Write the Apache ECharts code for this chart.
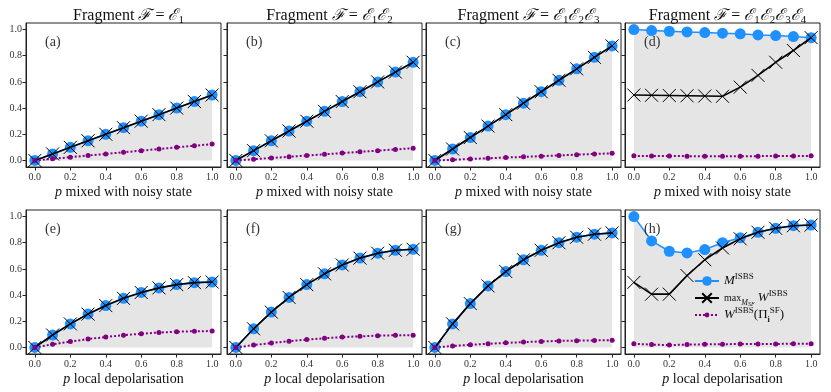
<!DOCTYPE html>
<html lang="en">
<head>
  <meta charset="UTF-8">
  <script src="https://cdn.jsdelivr.net/npm/echarts@6.0.0/dist/echarts.min.js"></script>
  <title>ISBS fragments</title>
  <style>
    html, body { margin: 0; padding: 0; background: #fff; }
    .container { width: 831px; height: 392px; }
  </style>
</head>
<body>
  <div class="container"></div>
  <script>
    // noise parameter p
    const pValues = [0, 0.1, 0.2, 0.3, 0.4, 0.5, 0.6, 0.7, 0.8, 0.9, 1.0];
    const tickValues = [0, 0.2, 0.4, 0.6, 0.8, 1.0];

    // top row: p mixed with noisy state
    const mPanelA = [0, 0.05, 0.1, 0.15, 0.2, 0.25, 0.3, 0.35, 0.4, 0.45, 0.5];
    const wPanelA = [0, 0.05, 0.1, 0.15, 0.2, 0.25, 0.3, 0.35, 0.4, 0.45, 0.5];
    const iiPanelA = [0, 0.0125, 0.025, 0.0375, 0.05, 0.0625, 0.075, 0.0875, 0.1, 0.1125, 0.125];

    const mPanelB = [0, 0.075, 0.15, 0.225, 0.3, 0.375, 0.45, 0.525, 0.6, 0.675, 0.75];
    const wPanelB = [0, 0.075, 0.15, 0.225, 0.3, 0.375, 0.45, 0.525, 0.6, 0.675, 0.75];
    const iiPanelB = [0, 0.009, 0.019, 0.028, 0.038, 0.047, 0.056, 0.066, 0.075, 0.084, 0.094];

    const mPanelC = [0, 0.0875, 0.175, 0.2625, 0.35, 0.4375, 0.525, 0.6125, 0.7, 0.7875, 0.875];
    const wPanelC = [0, 0.0875, 0.175, 0.2625, 0.35, 0.4375, 0.525, 0.6125, 0.7, 0.7875, 0.875];
    const iiPanelC = [0, 0.0055, 0.011, 0.0165, 0.022, 0.0275, 0.033, 0.0385, 0.044, 0.0495, 0.055];

    const mPanelD = [1.0, 0.992, 0.987, 0.982, 0.977, 0.972, 0.967, 0.959, 0.954, 0.946, 0.938];
    const wPanelD = [0.5, 0.498, 0.496, 0.494, 0.492, 0.49, 0.56, 0.65, 0.75, 0.84, 0.938];
    const iiPanelD = [0.035, 0.034, 0.034, 0.033, 0.033, 0.032, 0.033, 0.033, 0.034, 0.034, 0.035];

    // bottom row: p local depolarisation
    const mPanelE = [0, 0.095, 0.18, 0.255, 0.32, 0.375, 0.42, 0.455, 0.48, 0.495, 0.5];
    const wPanelE = [0, 0.095, 0.18, 0.255, 0.32, 0.375, 0.42, 0.455, 0.48, 0.495, 0.5];
    const iiPanelE = [0, 0.024, 0.045, 0.064, 0.08, 0.094, 0.105, 0.114, 0.12, 0.124, 0.125];

    const mPanelF = [0, 0.1425, 0.27, 0.3825, 0.48, 0.5625, 0.63, 0.6825, 0.72, 0.7425, 0.75];
    const wPanelF = [0, 0.1425, 0.27, 0.3825, 0.48, 0.5625, 0.63, 0.6825, 0.72, 0.7425, 0.75];
    const iiPanelF = [0, 0.018, 0.034, 0.048, 0.06, 0.07, 0.079, 0.085, 0.09, 0.093, 0.094];

    const mPanelG = [0, 0.18, 0.335, 0.47, 0.58, 0.67, 0.742, 0.8, 0.842, 0.865, 0.875];
    const wPanelG = [0, 0.18, 0.335, 0.47, 0.58, 0.67, 0.742, 0.8, 0.842, 0.865, 0.875];
    const iiPanelG = [0, 0.011, 0.02, 0.028, 0.035, 0.041, 0.046, 0.05, 0.052, 0.054, 0.055];

    const mPanelH = [1.0, 0.814, 0.735, 0.722, 0.748, 0.8, 0.838, 0.88, 0.91, 0.93, 0.935];
    const wPanelH = [0.497, 0.407, 0.407, 0.549, 0.67, 0.76, 0.83, 0.88, 0.91, 0.93, 0.935];
    const iiPanelH = [0.028, 0.022, 0.018, 0.022, 0.024, 0.025, 0.026, 0.027, 0.027, 0.028, 0.028];

    const serif = "'Liberation Serif', 'DejaVu Serif', serif";
    const mixedName = '{it|p}{rm| mixed with noisy state}';
    const depolName = '{it|p}{rm| local depolarisation}';

    const panels = [
      { title: '{rm|Fragment }{cal|ℱ}{rm| = }{cal|ℰ}{sub|1}', label: '(a)', m: mPanelA, w: wPanelA, ii: iiPanelA, xName: mixedName },
      { title: '{rm|Fragment }{cal|ℱ}{rm| = }{cal|ℰ}{sub|1}{cal|ℰ}{sub|2}', label: '(b)', m: mPanelB, w: wPanelB, ii: iiPanelB, xName: mixedName },
      { title: '{rm|Fragment }{cal|ℱ}{rm| = }{cal|ℰ}{sub|1}{cal|ℰ}{sub|2}{cal|ℰ}{sub|3}', label: '(c)', m: mPanelC, w: wPanelC, ii: iiPanelC, xName: mixedName },
      { title: '{rm|Fragment }{cal|ℱ}{rm| = }{cal|ℰ}{sub|1}{cal|ℰ}{sub|2}{cal|ℰ}{sub|3}{cal|ℰ}{sub|4}', label: '(d)', m: mPanelD, w: wPanelD, ii: iiPanelD, xName: mixedName },
      { title: '', label: '(e)', m: mPanelE, w: wPanelE, ii: iiPanelE, xName: depolName },
      { title: '', label: '(f)', m: mPanelF, w: wPanelF, ii: iiPanelF, xName: depolName },
      { title: '', label: '(g)', m: mPanelG, w: wPanelG, ii: iiPanelG, xName: depolName },
      { title: '', label: '(h)', m: mPanelH, w: wPanelH, ii: iiPanelH, xName: depolName },
    ];

    const colLefts = [26, 227, 426, 625];
    const rowTops = [23, 210];
    const panelW = 195;
    const panelH = 144;

    const pairs = (ys) => pValues.map((p, i) => [p, ys[i]]);
    const crossPath = 'path://M0,0L10,10M10,0L0,10';

    const grids = [], xAxes = [], yAxes = [], titles = [], series = [];

    panels.forEach((pan, i) => {
      const row = Math.floor(i / 4);
      const col = i % 4;
      const left = colLefts[col];
      const top = rowTops[row];

      grids.push({
        left: left, top: top, width: panelW, height: panelH,
        show: true, borderColor: '#222', borderWidth: 1, backgroundColor: '#fff'
      });

      xAxes.push({
        gridIndex: i, type: 'value', min: -0.05, max: 1.05,
        splitLine: { show: false },
        axisLine: { show: true, onZero: false, lineStyle: { color: '#222', width: 1 } },
        axisTick: { show: true, length: 3.5, customValues: tickValues, lineStyle: { color: '#222' } },
        axisLabel: {
          customValues: tickValues, fontFamily: serif, fontSize: 10, color: '#333', margin: 5,
          formatter: (v) => v.toFixed(1)
        },
        name: pan.xName, nameLocation: 'middle', nameGap: 18,
        nameTextStyle: {
          rich: {
            it: { fontFamily: serif, fontStyle: 'italic', fontSize: 14, color: '#111' },
            rm: { fontFamily: serif, fontSize: 14, color: '#111' }
          }
        }
      });

      yAxes.push({
        gridIndex: i, type: 'value', min: -0.05, max: 1.05,
        splitLine: { show: false },
        axisLine: { show: true, onZero: false, lineStyle: { color: '#222', width: 1 } },
        axisTick: { show: true, length: 3.5, customValues: tickValues, lineStyle: { color: '#222' } },
        axisLabel: {
          show: col === 0, customValues: tickValues, fontFamily: serif, fontSize: 10, color: '#333', margin: 4,
          formatter: (v) => v.toFixed(1)
        }
      });

      if (pan.title) {
        titles.push({
          text: pan.title, left: left + panelW / 2, top: 1, textAlign: 'center',
          textStyle: {
            fontWeight: 'normal',
            rich: {
              rm: { fontFamily: serif, fontSize: 16, fontWeight: 'normal', color: '#111', lineHeight: 20 },
              cal: { fontFamily: "'DejaVu Serif', serif", fontStyle: 'italic', fontWeight: 'normal', fontSize: 16, color: '#111', lineHeight: 20 },
              sub: { fontFamily: serif, fontSize: 11, fontWeight: 'normal', color: '#111', verticalAlign: 'bottom', lineHeight: 20 }
            }
          }
        });
      }
      titles.push({
        text: pan.label, left: left + 14, top: top + 7,
        textStyle: { fontFamily: serif, fontSize: 14, fontWeight: 'normal', color: '#333' }
      });

      const last = i === 7;
      series.push({
        name: last ? 'M' : 'M' + i, type: 'line', xAxisIndex: i, yAxisIndex: i,
        data: pairs(pan.m), symbol: 'circle', symbolSize: 11,
        itemStyle: { color: '#1e90ff' },
        lineStyle: { color: '#1e90ff', width: 1.5 },
        areaStyle: { color: '#e5e5e5', opacity: 1 },
        z: 2
      });
      series.push({
        name: last ? 'Wmax' : 'Wmax' + i, type: 'line', xAxisIndex: i, yAxisIndex: i,
        data: pairs(pan.w), symbol: crossPath, symbolSize: 13,
        itemStyle: { color: 'none', borderColor: '#000', borderWidth: 1 },
        lineStyle: { color: '#000', width: 1.6 },
        z: 3
      });
      series.push({
        name: last ? 'Wii' : 'Wii' + i, type: 'line', xAxisIndex: i, yAxisIndex: i,
        data: pairs(pan.ii), symbol: 'circle', symbolSize: 5,
        itemStyle: { color: '#800080' },
        lineStyle: { color: '#800080', width: 2, type: 'dotted' },
        z: 4
      });
    });

    const legendRich = {
      it: { fontFamily: serif, fontStyle: 'italic', fontSize: 13, color: '#111', lineHeight: 18 },
      rm: { fontFamily: serif, fontSize: 13, color: '#111', lineHeight: 18 },
      sm: { fontFamily: serif, fontSize: 10, color: '#111', lineHeight: 18 },
      sup: { fontFamily: serif, fontSize: 9, color: '#111', verticalAlign: 'top', lineHeight: 18 },
      sub: { fontFamily: serif, fontStyle: 'italic', fontSize: 8, color: '#111', verticalAlign: 'bottom', lineHeight: 18 },
      ssub: { fontFamily: serif, fontStyle: 'italic', fontSize: 6, color: '#111', verticalAlign: 'bottom', lineHeight: 16 },
      bsub: { fontFamily: serif, fontWeight: 'bold', fontSize: 8, color: '#111', verticalAlign: 'bottom', lineHeight: 18 }
    };
    const legendLabels = {
      M: '{it|M}{sup|ISBS}',
      Wmax: '{sm|max}{sub|M}{ssub|SF}{it| W}{sup|ISBS}',
      Wii: '{it|W}{sup|ISBS}{rm|(Π}{bsub|i}{sup|SF}{rm|)}'
    };
    const legendItem = (name, top, size) => ({
      data: [name], orient: 'vertical', left: 694, top: top,
      itemWidth: 24, itemHeight: size, itemGap: 0, padding: 0,
      formatter: (n) => legendLabels[n],
      textStyle: { rich: legendRich }
    });

    const chart = echarts.init(document.querySelector('.container'));
    chart.setOption({
      animation: false,
      title: titles,
      grid: grids,
      xAxis: xAxes,
      yAxis: yAxes,
      legend: [
        legendItem('M', 272, 12),
        legendItem('Wmax', 289, 12),
        legendItem('Wii', 306, 6)
      ],
      series: series
    });
  </script>
</body>
</html>
